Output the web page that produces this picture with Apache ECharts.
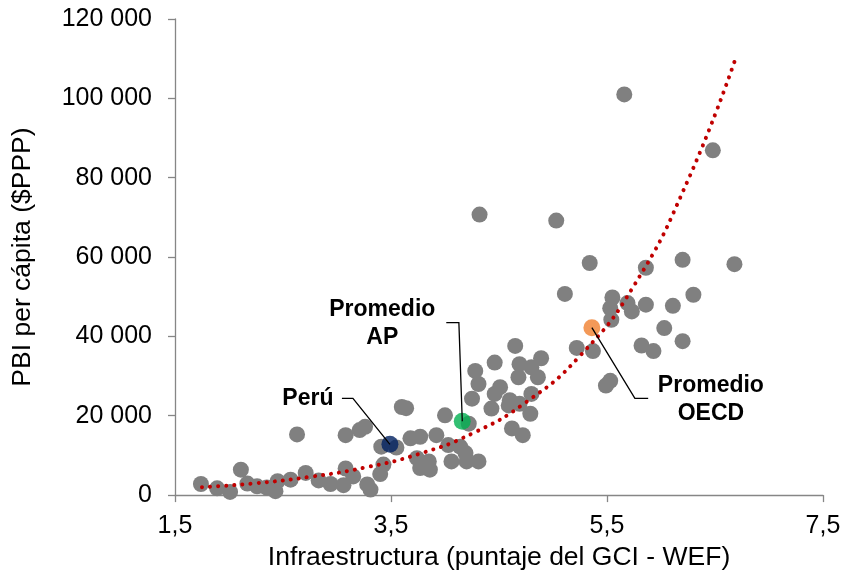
<!DOCTYPE html>
<html><head><meta charset="utf-8">
<script src="https://cdn.jsdelivr.net/npm/echarts@6/dist/echarts.min.js"></script>
<style>html,body{margin:0;padding:0;background:#fff}#c{width:860px;height:576px}</style>
</head><body><div id="c"></div>
<script>
// Gray points: infraestructura score (x) and PBI per cápita (y)
const grayX = [1.74,1.89,2.01,2.11,2.17,2.26,2.35,2.45,2.43,2.57,2.63,2.71,2.83,2.94,3.08,3.06,3.15,3.28,3.31,3.40,
  3.43,3.08,3.21,3.26,3.41,3.55,3.60,3.64,3.68,3.74,3.85,3.77,3.86,3.77,3.92,4.00,4.03,4.14,4.19,4.06,
  4.20,4.31,4.22,4.25,4.28,4.31,4.32,4.43,4.46,4.46,4.51,4.59,4.60,4.62,4.65,4.68,4.69,4.69,4.72,4.79,
  4.80,4.80,4.86,4.89,5.03,5.11,5.22,5.34,5.37,5.49,5.53,5.53,5.54,5.55,5.66,5.69,5.73,5.82,5.86,5.86,
  5.93,6.03,6.11,6.20,6.20,6.30,6.48,6.68];
const grayY = [2800,1700,800,6400,2900,2200,1900,3500,1000,3900,15300,5600,3700,2800,6700,2500,4700,2700,1400,5300,
  7700,15100,16400,17200,12200,12000,22200,21900,14300,9300,8500,6800,6400,14700,15100,20100,12600,12200,10600,8500,
  8500,8500,18000,24300,31300,28000,70700,21800,25500,33400,27200,22600,23900,16800,37600,29700,33000,23000,15100,20500,
  32200,25500,29700,34500,69200,50700,37100,58500,36300,27600,28800,47100,44200,49800,101000,48400,46300,37700,57300,48000,
  36300,42100,47700,59300,38800,50500,86900,58200];
// Highlighted points
const peru = [3.49, 12800];
const promedioAP = [4.16, 18600];
const promedioOECD = [5.36, 42200];
// Exponential trend line
const trendX = [1.75, 2.25, 2.75, 3.25, 3.75, 4.25, 4.75, 5.25, 5.75, 6.25, 6.69];
const trendY = [2000, 3000, 4600, 6900, 10300, 15500, 23400, 35100, 52800, 79400, 110000];
// Axes
const xMin = 1.5, xMax = 7.5, xStep = 2;
const yMin = 0, yMax = 120000, yStep = 20000;
const xName = 'Infraestructura (puntaje del GCI - WEF)';
const yName = 'PBI per cápita ($PPP)';

const FONT = '"Liberation Sans", Arial, sans-serif';
const chart = echarts.init(document.getElementById('c'), null, {renderer: 'canvas'});
const axisCol = '#868686';

chart.setOption({
  animation: false,
  backgroundColor: '#ffffff',
  grid: {left: 175, right: 37, top: 19, bottom: 75, containLabel: false},
  xAxis: {
    type: 'value', min: xMin, max: xMax, interval: xStep,
    name: xName, nameLocation: 'middle', nameGap: 44,
    nameTextStyle: {fontFamily: FONT, fontSize: 26.5, color: '#000'},
    axisLine: {show: true, lineStyle: {color: axisCol, width: 1.3}},
    axisTick: {show: true, length: 7, lineStyle: {color: axisCol, width: 1.3}},
    axisLabel: {margin: 19, fontFamily: FONT, fontSize: 25, color: '#000',
      formatter: v => v.toFixed(1).replace('.', ',')},
    splitLine: {show: false}
  },
  yAxis: {
    type: 'value', min: yMin, max: yMax, interval: yStep,
    name: yName, nameLocation: 'middle', nameGap: 139,
    nameTextStyle: {fontFamily: FONT, fontSize: 26.5, color: '#000'},
    axisLine: {show: true, lineStyle: {color: axisCol, width: 1.3}},
    axisTick: {show: true, length: 7, lineStyle: {color: axisCol, width: 1.3}},
    axisLabel: {margin: 23, fontFamily: FONT, fontSize: 25, color: '#000',
      formatter: v => String(v).replace(/\B(?=(\d{3})+(?!\d))/g, ' ')},
    splitLine: {show: false}
  },
  series: [
    {type: 'scatter', symbolSize: 16, itemStyle: {color: '#808080', opacity: 1},
      data: grayX.map((x, i) => [x, grayY[i]]), z: 2},
    {type: 'line', smooth: true, showSymbol: false, symbol: 'none',
      lineStyle: {color: '#C00000', width: 4, type: [0.1, 8], cap: 'round'},
      data: trendX.map((x, i) => [x, trendY[i]]), z: 3},
    {type: 'scatter', symbolSize: 17, itemStyle: {color: '#002060'}, data: [peru], z: 4},
    {type: 'scatter', symbolSize: 17, itemStyle: {color: '#00B050'}, data: [promedioAP], z: 4},
    {type: 'scatter', symbolSize: 17, itemStyle: {color: '#F07F2E'}, data: [promedioOECD], z: 4}
  ]
});

// Annotations anchored to the data points
function annot(pt, elbow, end, text, lbl) {
  const p = chart.convertToPixel({gridIndex: 0}, pt);
  return [
    {type: 'polyline', z: 100, silent: true,
      shape: {points: [[p[0], p[1]], [p[0] + elbow[0], p[1] + elbow[1]], [p[0] + end[0], p[1] + end[1]]]},
      style: {stroke: '#000', lineWidth: 1.3, fill: null}},
    {type: 'text', z: 100, silent: true, x: p[0] + lbl[0], y: p[1] + lbl[1],
      style: {text: text, fontFamily: FONT, fontSize: 23, fontWeight: 'bold', fill: '#000',
        align: 'center', verticalAlign: 'middle', lineHeight: 28}}
  ];
}
chart.setOption({graphic: [].concat(
  annot(peru, [-37, -46], [-48, -46], 'Perú', [-82, -46]),
  annot(promedioAP, [-3.4, -98.7], [-16, -98.7], 'Promedio\nAP', [-80, -98]),
  annot(promedioOECD, [43, 70.7], [56.3, 70.7], 'Promedio\nOECD', [119, 72])
)});
</script>
</body></html>
